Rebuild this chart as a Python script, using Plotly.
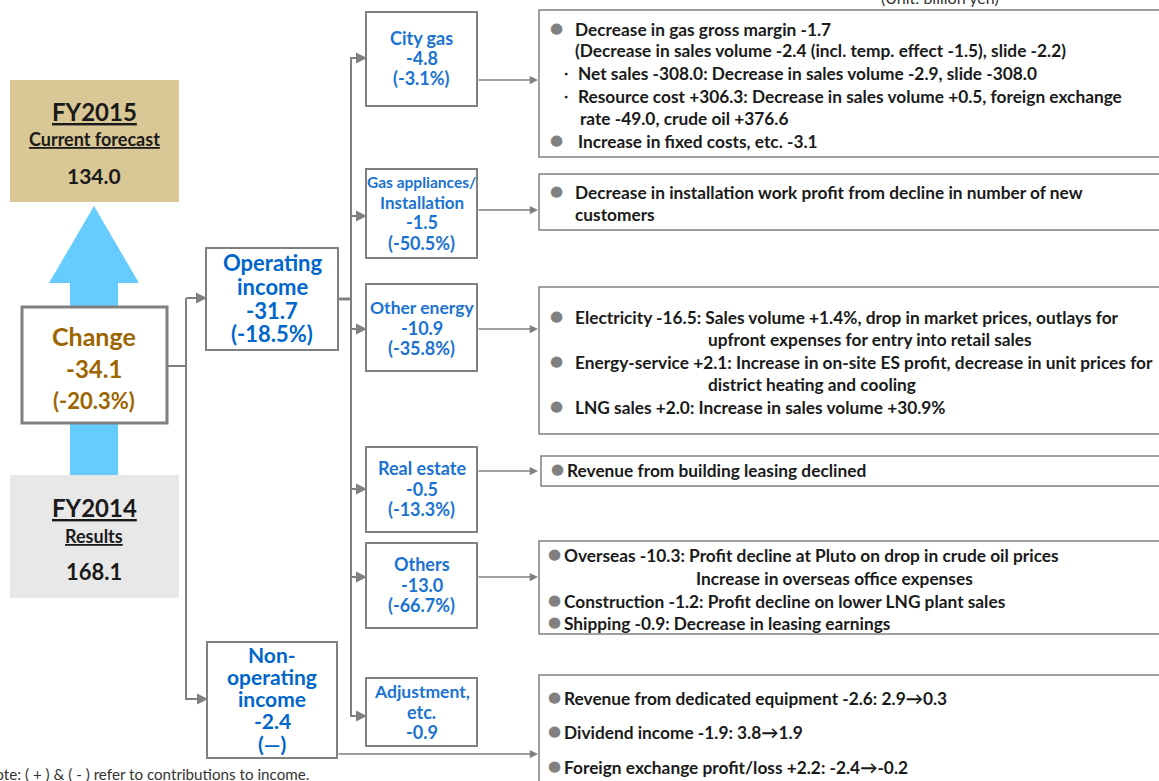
import plotly.graph_objects as go

W, H = 1159, 781
FONT = "Lato, Roboto, sans-serif"

# ---------------- data ----------------
fy2015_title = "FY2015"
fy2015_sub = "Current forecast"
fy2015_value = 134.0
fy2014_title = "FY2014"
fy2014_sub = "Results"
fy2014_value = 168.1
change_value = -34.1
change_pct = -20.3
op_income_value = -31.7
op_income_pct = -18.5
nonop_value = -2.4

segment_names = ["City gas", "Gas appliances/<br>Installation", "Other energy",
                 "Real estate", "Others", "Adjustment,<br>etc."]
segment_values = [-4.8, -1.5, -10.9, -0.5, -13.0, -0.9]
segment_pcts = [-3.1, -50.5, -35.8, -13.3, -66.7, None]

city_gas_details = [
    ("●", "Decrease in gas gross margin -1.7"),
    ("", "(Decrease in sales volume -2.4 (incl. temp. effect -1.5), slide -2.2)"),
    ("・", "Net sales -308.0: Decrease in sales volume -2.9, slide -308.0"),
    ("・", "Resource cost +306.3: Decrease in sales volume +0.5, foreign exchange"),
    ("", "rate -49.0, crude oil +376.6"),
    ("●", "Increase in fixed costs, etc. -3.1"),
]
gas_appl_details = [
    ("●", "Decrease in installation work profit from decline in number of new"),
    ("", "customers"),
]
other_energy_details = [
    ("●", "Electricity -16.5: Sales volume +1.4%, drop in market prices, outlays for"),
    ("", "upfront expenses for entry into retail sales"),
    ("●", "Energy-service +2.1: Increase in on-site ES profit, decrease in unit prices for"),
    ("", "district heating and cooling"),
    ("●", "LNG sales +2.0: Increase in sales volume +30.9%"),
]
real_estate_details = [
    ("●", "Revenue from building leasing declined"),
]
others_details = [
    ("●", "Overseas -10.3: Profit decline at Pluto on drop in crude oil prices"),
    ("", "Increase in overseas office expenses"),
    ("●", "Construction -1.2: Profit decline on lower LNG plant sales"),
    ("●", "Shipping -0.9: Decrease in leasing earnings"),
]
adjustment_details = [
    ("●", "Revenue from dedicated equipment -2.6: 2.9→0.3"),
    ("●", "Dividend income -1.9: 3.8→1.9"),
    ("●", "Foreign exchange profit/loss +2.2: -2.4→-0.2"),
]
unit_note = "(Unit: billion yen)"
footnote = "Note: ( + ) & ( - ) refer to contributions to income."

# ---------------- layout (positions / styles) ----------------
GRAY = "#808080"
BLUE_OP = "#0066CC"
BLUE_SEG = "#1A73D1"
BROWN = "#9C6500"
TXT = "#1A1A1A"
DETAIL_SIZE = 17.3

seg_boxes = [(366, 12, 477, 106), (366, 169, 477, 258), (366, 284, 477, 371),
             (366, 447, 477, 532), (366, 543, 477, 628), (366, 678, 477, 746)]
seg_line_y = [[38, 58, 78], [182, 202, 222, 243], [307, 328, 348],
              [468, 489, 509], [564, 585, 605], [691, 712, 732]]
seg_line_size = [[18, 18, 18], [15.5, 17, 18, 18], [17.5, 18, 18],
                 [18, 18, 18], [18, 18, 18], [17.5, 18, 18]]
seg_in_y = [58, 216, 329, 489, 577, 716]
seg_out_y = [80, 210, 329, 471, 577, None]

detail_boxes = [(539, 10, 1170, 157), (539, 174, 1170, 230), (539, 287, 1170, 434),
                (541, 456, 1170, 486), (539, 541, 1170, 634), (539, 675, 1170, 800)]
detail_groups = [city_gas_details, gas_appl_details, other_energy_details,
                 real_estate_details, others_details, adjustment_details]
# (bullet_x, text_x, y) for each line
detail_pos = [
    [(556, 573, 29), (None, 573, 50), (566, 576, 73), (566, 576, 96), (None, 578, 118), (556, 576, 141)],
    [(556, 573, 192), (None, 573, 214)],
    [(556, 573, 317), (None, 706, 339), (556, 573, 362), (None, 706, 384), (556, 573, 407)],
    [(557, 565, 470)],
    [(554, 562, 555), (None, 694, 578), (554, 562, 601), (554, 562, 623)],
    [(554, 562, 698), (554, 562, 732), (554, 562, 767)],
]

shapes = []
annotations = []


def rect(x0, y0, x1, y1, fill="rgba(0,0,0,0)", line=GRAY, lw=2.0):
    shapes.append(dict(type="rect", x0=x0, y0=y0, x1=x1, y1=y1, xref="x", yref="y",
                       fillcolor=fill, line=dict(color=line, width=lw), layer="above"))


def seg(x0, y0, x1, y1, lw=2.0, color=GRAY):
    shapes.append(dict(type="line", x0=x0, y0=y0, x1=x1, y1=y1, xref="x", yref="y",
                       line=dict(color=color, width=lw), layer="above"))


def arrow(x0, y0, x1, y1, lw=2.0):
    annotations.append(dict(x=x1, y=y1, ax=x0, ay=y0, xref="x", yref="y", axref="x", ayref="y",
                            text="", showarrow=True, arrowhead=2, arrowsize=1.1,
                            arrowwidth=lw, arrowcolor=GRAY, standoff=0, startstandoff=0))


def text(x, y, s, size=16, color=TXT, anchor="center", bold=True, yshift=0, family=FONT):
    annotations.append(dict(x=x, y=y, xref="x", yref="y", text=("<b>%s</b>" % s) if bold else s,
                            showarrow=False, xanchor=anchor, yanchor="middle", yshift=yshift,
                            font=dict(family=family, size=size, color=color)))


# FY2015 box
shapes.append(dict(type="rect", x0=10, y0=80, x1=179, y1=202, fillcolor="#D9C796",
                   line=dict(width=0), layer="below"))
text(94, 111, "<u>%s</u>" % fy2015_title, size=24)
text(94, 139, "<u>%s</u>" % fy2015_sub, size=18)
text(94, 175, "%.1f" % fy2015_value, size=21)

# FY2014 box
shapes.append(dict(type="rect", x0=10, y0=475, x1=179, y1=598, fillcolor="#E8E8E8",
                   line=dict(width=0), layer="below"))
text(94, 507, "<u>%s</u>" % fy2014_title, size=24)
text(94, 536, "<u>%s</u>" % fy2014_sub, size=18)
text(94, 571, "%.1f" % fy2014_value, size=22)

# big light-blue arrow
shapes.append(dict(type="path", path="M 94,206 L 139,283 L 118,283 L 118,475 L 70,475 L 70,283 L 49,283 Z",
                   fillcolor="#66CCFF", line=dict(width=0), layer="below"))

# Change box
rect(22, 307, 167, 423, fill="white", lw=3)
text(94, 336, "Change", size=25, color=BROWN)
text(94, 368, "%.1f" % change_value, size=24, color=BROWN)
text(94, 400, "(%.1f%%)" % change_pct, size=22, color=BROWN)

# change -> operating / non-operating
seg(167, 366, 186, 366)
seg(186, 298, 186, 700)
arrow(185, 298, 207, 298)
arrow(185, 699, 208, 699)

# Operating income box
rect(206, 248, 338, 350)
text(272, 262, "Operating", size=22, color=BLUE_OP)
text(272, 286, "income", size=22, color=BLUE_OP)
text(272, 310, "%.1f" % op_income_value, size=22, color=BLUE_OP)
text(272, 333, "(%.1f%%)" % op_income_pct, size=22, color=BLUE_OP)

# Non-operating box
rect(207, 642, 337, 758)
for yy, s in zip([654, 676, 698, 720, 743],
                 ["Non-", "operating", "income", "%.1f" % nonop_value, "(—)"]):
    text(272, yy, s, size=21, color=BLUE_OP)

# operating -> segments
seg(338, 299, 351, 299, lw=3)
seg(351, 57, 351, 717)
for yy in seg_in_y:
    arrow(350, yy, 367, yy)

# segment boxes
for i, (b, ys, ss) in enumerate(zip(seg_boxes, seg_line_y, seg_line_size)):
    rect(*b)
    lines = segment_names[i].split("<br>") + ["%.1f" % segment_values[i]]
    if segment_pcts[i] is not None:
        lines.append("(%.1f%%)" % segment_pcts[i])
    for yy, s, sz in zip(ys, lines, ss):
        text((b[0] + b[2]) / 2, yy, s, size=sz, color=BLUE_SEG)
    if seg_out_y[i] is not None:
        arrow(477, seg_out_y[i], 538, seg_out_y[i], lw=1.5)

# non-operating -> adjustment details
arrow(337, 754, 538, 754, lw=1.5)

# detail boxes
for b, grp, pos in zip(detail_boxes, detail_groups, detail_pos):
    rect(*b, lw=1.5)
    for (bul, s), (bx, tx, yy) in zip(grp, pos):
        if bul == "●":
            text(bx, yy - 1, "●", size=15, color=GRAY, bold=False, family="DejaVu Sans")
        elif bul == "・":
            text(bx, yy, "・", size=14, color=TXT)
        text(tx, yy, s, size=DETAIL_SIZE, anchor="left")

# unit note (cut at top) and footnote (cut at left)
text(940, 0, unit_note, size=16, color="#333333", bold=False, yshift=3)
text(311, 774, footnote, size=15.2, color="#333333", anchor="right", bold=False)

fig = go.Figure()
fig.update_layout(
    width=W, height=H, margin=dict(l=0, r=0, t=0, b=0),
    paper_bgcolor="white", plot_bgcolor="white",
    xaxis=dict(range=[0, W], visible=False, fixedrange=True),
    yaxis=dict(range=[H, 0], visible=False, fixedrange=True),
    shapes=shapes, annotations=annotations, showlegend=False,
)
fig.write_html("out.html", config={"displayModeBar": False})
